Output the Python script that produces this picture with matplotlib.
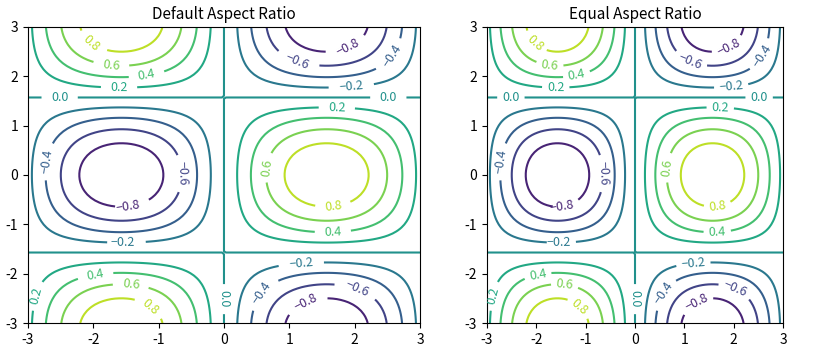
import numpy as np
import matplotlib.pyplot as plt

plt.rcParams['font.family'] = ['Noto Sans CJK SC', 'DejaVu Sans']
plt.rcParams['axes.unicode_minus'] = False

# Сетка и функция z = sin(x) * cos(y)
x = np.linspace(-3, 3, 100)
y = np.linspace(-3, 3, 100)
X, Y = np.meshgrid(x, y)
Z = np.sin(X) * np.cos(Y)

titles = ['Default Aspect Ratio', 'Equal Aspect Ratio']


def fmt(v):
    # подписи изолиний с настоящим знаком минус
    return f'{v:.1f}'.replace('-', '\u2212')


fig, axes = plt.subplots(1, 2, figsize=(8.4, 3.5), dpi=100)

for ax, title in zip(axes, titles):
    cs = ax.contour(X, Y, Z, levels=10, cmap='viridis')
    ax.clabel(cs, inline=True, fontsize=9, fmt=fmt)
    ax.set_title(title, fontsize=11)

axes[1].set_aspect('equal')

plt.subplots_adjust(left=0.0333, right=0.9893, bottom=0.077, top=0.923, wspace=0.0485)
plt.savefig('out.png')
